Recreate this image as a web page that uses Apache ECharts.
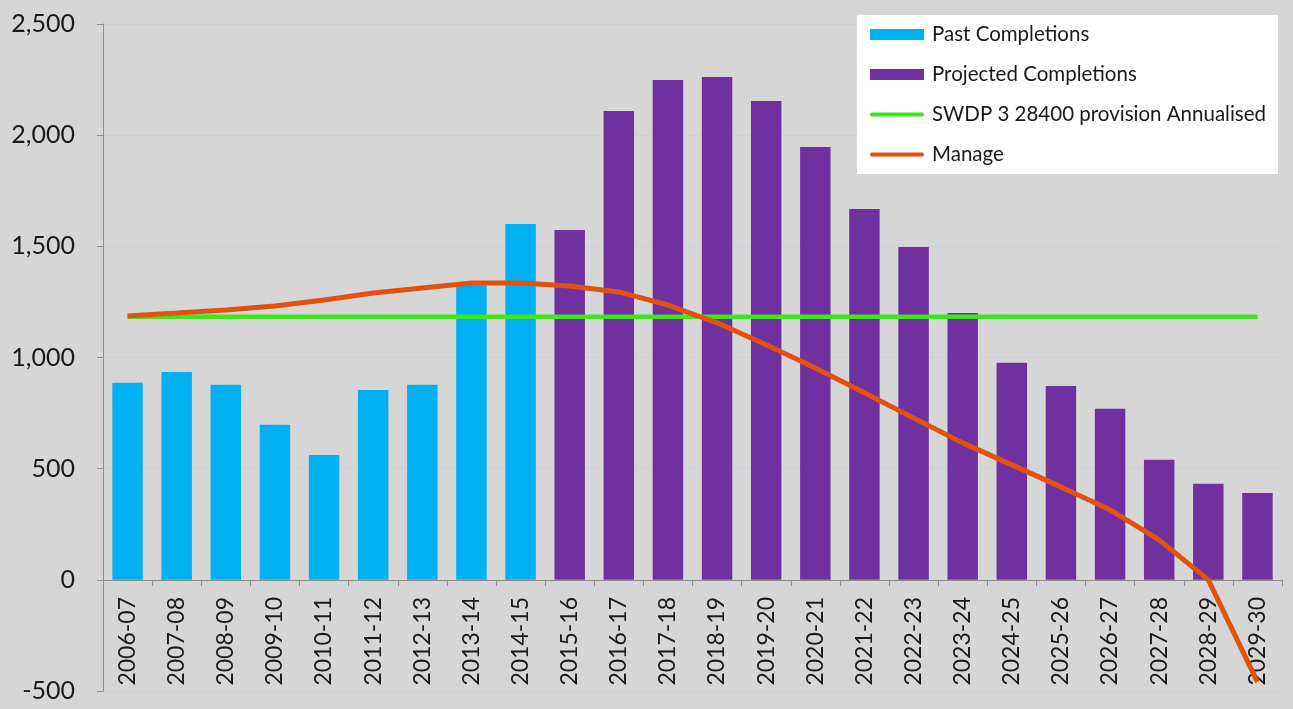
<!DOCTYPE html>
<html>
<head>
<meta charset="utf-8">
<script src="https://cdn.jsdelivr.net/npm/echarts@6/dist/echarts.min.js"></script>
<style>
  html, body { margin: 0; padding: 0; background: #d6d6d6; }
  #chart { width: 1293px; height: 709px; }
</style>
</head>
<body>
<div id="chart"></div>
<script>
// categories (financial years)
const years = ['2006-07', '2007-08', '2008-09', '2009-10', '2010-11', '2011-12', '2012-13', '2013-14',
    '2014-15', '2015-16', '2016-17', '2017-18', '2018-19', '2019-20', '2020-21', '2021-22', '2022-23',
    '2023-24', '2024-25', '2025-26', '2026-27', '2027-28', '2028-29', '2029-30'];

// past completions (2006-07 .. 2014-15), rest empty
const pastCompletions = [886, 935, 877, 697, 562, 854, 877, 1325, 1601,
    null, null, null, null, null, null, null, null, null, null, null, null, null, null, null];

// projected completions (2015-16 .. 2029-30)
const projectedCompletions = [null, null, null, null, null, null, null, null, null,
    1574, 2109, 2248, 2262, 2154, 1947, 1668, 1497, 1200, 976, 872, 769, 540, 432, 391];

// SWDP 3 28400 provision annualised (flat)
const provision = [1183, 1183, 1183, 1183, 1183, 1183, 1183, 1183, 1183, 1183, 1183, 1183,
    1183, 1183, 1183, 1183, 1183, 1183, 1183, 1183, 1183, 1183, 1183, 1183];

// manage line
const manage = [1187, 1200, 1214, 1232, 1259, 1290, 1313, 1335, 1335, 1322, 1295, 1236,
    1156, 1057, 953, 841, 728, 616, 517, 418, 315, 180, 0, -459];

const yTicks = {min: -500, max: 2500, interval: 500};

const font = 'Lato';
// flat rounded bar used as legend icon for the line series
const lineIcon = 'path://M2,0 L52,0 A2,2 0 0 1 52,4 L2,4 A2,2 0 0 1 2,0 Z';

const chart = echarts.init(document.getElementById('chart'));

const option = {
    backgroundColor: '#d6d6d6',
    animation: false,
    textStyle: {fontFamily: font},
    grid: {left: 103, right: 11, top: 24, bottom: 18, containLabel: false, outerBoundsMode: 'none'},
    legend: {
        orient: 'vertical',
        left: 857,
        top: 15,
        backgroundColor: '#ffffff',
        padding: [9, 12, 9, 13],
        itemGap: 19,
        itemWidth: 54,
        itemHeight: 11,
        textStyle: {fontFamily: font, fontSize: 20.5, color: '#1a1a1a', padding: [0, 0, 0, 3]},
        data: [
            {name: 'Past Completions', icon: 'rect'},
            {name: 'Projected Completions', icon: 'rect'},
            {name: 'SWDP 3 28400 provision Annualised', icon: lineIcon},
            {name: 'Manage', icon: lineIcon}
        ]
    },
    xAxis: {
        type: 'category',
        data: years,
        axisLine: {onZero: true, lineStyle: {color: '#8c8c8c', width: 1}},
        axisTick: {show: true, length: 6, lineStyle: {color: '#8c8c8c'}},
        // labels sit just under the zero line, as in the original
        axisLabel: {rotate: 90, fontSize: 23, color: '#1a1a1a', margin: -94, fontFamily: font}
    },
    yAxis: {
        type: 'value',
        min: yTicks.min,
        max: yTicks.max,
        interval: yTicks.interval,
        axisLine: {show: true, lineStyle: {color: '#8c8c8c'}},
        axisTick: {show: true, length: 6, lineStyle: {color: '#8c8c8c'}},
        splitLine: {show: true, lineStyle: {color: '#cdcfdb', width: 1}},
        axisLabel: {
            fontSize: 25,
            color: '#1a1a1a',
            margin: 28,
            fontFamily: font,
            formatter: v => v.toLocaleString('en-US')
        }
    },
    series: [
        {
            name: 'Past Completions',
            type: 'bar',
            data: pastCompletions,
            barWidth: '62%',
            barGap: '-100%',
            itemStyle: {color: '#00b0f0'}
        },
        {
            name: 'Projected Completions',
            type: 'bar',
            data: projectedCompletions,
            barWidth: '62%',
            barGap: '-100%',
            itemStyle: {color: '#7030a0'}
        },
        {
            name: 'SWDP 3 28400 provision Annualised',
            type: 'line',
            data: provision,
            symbol: 'none',
            lineStyle: {color: '#3ee61d', width: 4.5},
            itemStyle: {color: '#3ee61d'}
        },
        {
            name: 'Manage',
            type: 'line',
            data: manage,
            symbol: 'none',
            lineStyle: {color: '#e2520f', width: 5},
            itemStyle: {color: '#e2520f'}
        }
    ]
};

chart.setOption(option);
</script>
</body>
</html>
